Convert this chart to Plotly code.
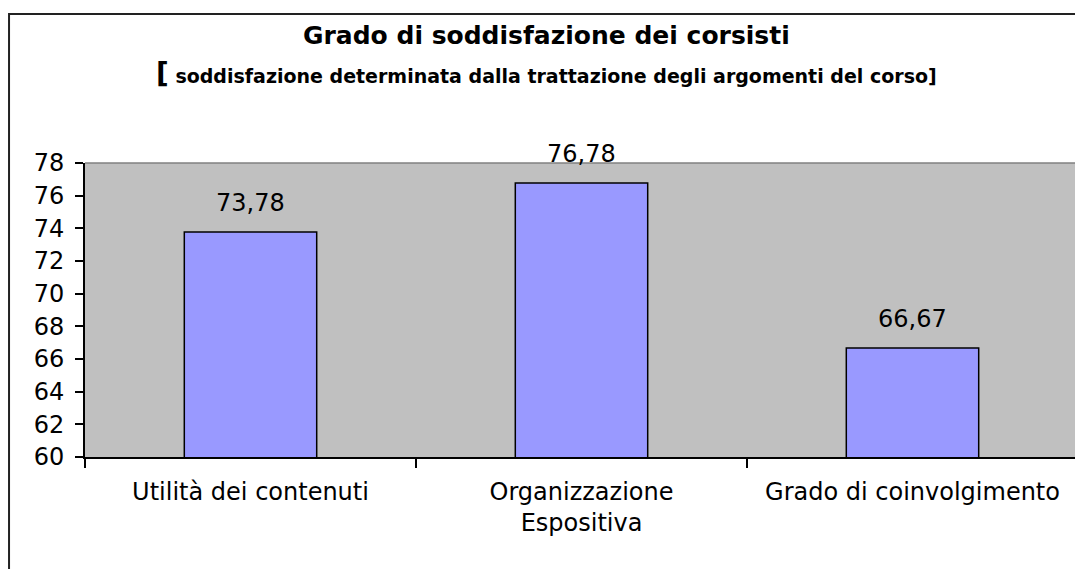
import plotly.graph_objects as go

categories = ["Utilità dei contenuti", "Organizzazione<br>Espositiva", "Grado di coinvolgimento"]
values = [73.78, 76.78, 66.67]
y_ticks = [60, 62, 64, 66, 68, 70, 72, 74, 76, 78]

title_text = "Grado di soddisfazione dei corsisti"
subtitle_text = "soddisfazione determinata dalla trattazione degli argomenti del corso]"

FONT = "DejaVu Sans"

fig = go.Figure()
fig.add_trace(go.Bar(
    x=categories,
    y=values,
    width=0.4,
    marker=dict(color="#9999FF", line=dict(color="#000000", width=1.5)),
    hoverinfo="skip",
))

# Data labels
for c, v in zip(categories, values):
    fig.add_annotation(
        x=c, y=v, xref="x", yref="y",
        text=f"{v:.2f}".replace(".", ","),
        showarrow=False, yanchor="middle", yshift=29,
        font=dict(family=FONT, size=24, color="#000000"),
    )

# Titles
fig.add_annotation(
    x=0.465, y=1.432, xref="paper", yref="paper",
    text=f"<b>{title_text}</b>", showarrow=False,
    xanchor="center", yanchor="middle",
    font=dict(family=FONT, size=25, color="#000000"),
)
fig.add_annotation(
    x=0.465, y=1.305, xref="paper", yref="paper",
    text=f"<b><span style='font-size:28px'>[</span> {subtitle_text}</b>", showarrow=False,
    xanchor="center", yanchor="middle",
    font=dict(family=FONT, size=19, color="#000000"),
)

# Plot-area border (top and right) in gray
fig.add_shape(type="line", xref="paper", yref="paper", x0=0, x1=1, y0=1, y1=1,
              line=dict(color="#808080", width=1.5))
fig.add_shape(type="line", xref="paper", yref="paper", x0=1, x1=1, y0=0, y1=1,
              line=dict(color="#808080", width=1.5))
# Outer chart border
fig.add_shape(type="rect", xref="paper", yref="paper",
              x0=-0.0765, x1=1.2, y0=-1.0, y1=1.507,
              line=dict(color="#222222", width=2), fillcolor="rgba(0,0,0,0)", layer="above")

fig.update_layout(
    width=1075, height=561,
    margin=dict(l=77, r=5, t=155, b=112),
    paper_bgcolor="#FFFFFF",
    plot_bgcolor="#C0C0C0",
    showlegend=False,
    bargap=0.6,
    font=dict(family=FONT, size=24, color="#000000"),
)
fig.update_xaxes(
    showline=True, linecolor="#000000", linewidth=2,
    ticks="outside", tickson="boundaries", ticklen=9, tickwidth=1.5, tickcolor="#000000",
    showgrid=False, ticklabelstandoff=12,
    tickfont=dict(family=FONT, size=24, color="#000000"),
)
fig.update_yaxes(
    range=[60, 78], tickvals=y_ticks, showline=True, linecolor="#000000", linewidth=2,
    ticks="outside", ticklen=8, tickwidth=1.5, tickcolor="#000000",
    showgrid=False, zeroline=False, ticklabelstandoff=6,
    tickfont=dict(family=FONT, size=24, color="#000000"),
)

fig.write_html("out.html")
